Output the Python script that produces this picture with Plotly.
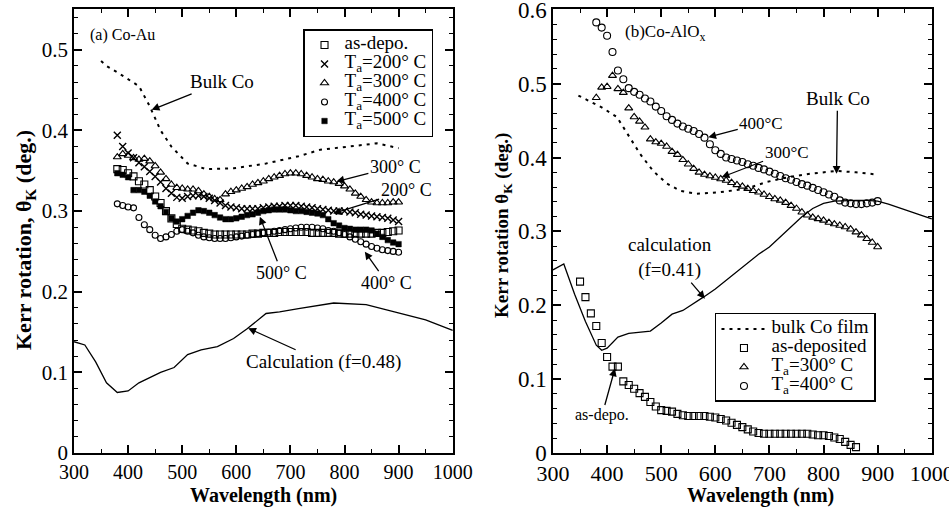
import plotly.graph_objects as go

FONT = "Liberation Serif"

# ---------------- Panel (a) Co-Au ----------------
wl_a = [380, 390, 400, 410, 420, 430, 440, 450, 460, 470, 480, 490, 500, 510, 520, 530, 540, 550,
        560, 570, 580, 590, 600, 610, 620, 630, 640, 650, 660, 670, 680, 690, 700, 710, 720, 730,
        740, 750, 760, 770, 780, 790, 800, 810, 820, 830, 840, 850, 860, 870, 880, 890, 900]
asdepo_a = [0.352, 0.351, 0.347, 0.343, 0.337, 0.333, 0.326, 0.318, 0.310, 0.300, 0.291, 0.284, 0.278,
            0.277, 0.276, 0.275, 0.273, 0.272, 0.271, 0.271, 0.271, 0.271, 0.271, 0.271, 0.271, 0.272,
            0.272, 0.273, 0.273, 0.273, 0.274, 0.274, 0.274, 0.274, 0.274, 0.274, 0.273, 0.273, 0.273,
            0.273, 0.273, 0.272, 0.272, 0.272, 0.272, 0.272, 0.272, 0.272, 0.273, 0.273, 0.274, 0.275, 0.276]
t200_a = [0.394, 0.380, 0.372, 0.366, 0.360, 0.355, 0.349, 0.343, 0.336, 0.328, 0.322, 0.317, 0.316,
          0.318, 0.319, 0.319, 0.318, 0.316, 0.313, 0.310, 0.307, 0.305, 0.304, 0.303, 0.303, 0.303,
          0.303, 0.304, 0.305, 0.306, 0.306, 0.307, 0.307, 0.307, 0.306, 0.305, 0.304, 0.303, 0.302,
          0.301, 0.300, 0.300, 0.300, 0.299, 0.298, 0.296, 0.295, 0.294, 0.293, 0.292, 0.291, 0.289, 0.287]
t300_a = [0.367, 0.371, 0.369, 0.366, 0.364, 0.365, 0.362, 0.356, 0.348, 0.340, 0.333, 0.329, 0.328,
          0.327, 0.327, 0.325, 0.321, 0.318, 0.315, 0.314, 0.321, 0.324, 0.326, 0.328, 0.330, 0.333,
          0.335, 0.337, 0.340, 0.342, 0.344, 0.346, 0.347, 0.347, 0.346, 0.344, 0.342, 0.340, 0.339,
          0.337, 0.336, 0.334, 0.331, 0.327, 0.322, 0.318, 0.314, 0.311, 0.310, 0.310, 0.310, 0.311, 0.311]
t400_a = [0.309, 0.307, 0.305, 0.304, 0.292, 0.283, 0.277, 0.270, 0.266, 0.268, 0.271, 0.275, 0.277,
          0.275, 0.273, 0.270, 0.268, 0.267, 0.266, 0.266, 0.266, 0.267, 0.268, 0.269, 0.270, 0.271,
          0.272, 0.273, 0.274, 0.275, 0.276, 0.277, 0.278, 0.279, 0.280, 0.280, 0.280, 0.279, 0.278,
          0.276, 0.275, 0.273, 0.271, 0.268, 0.265, 0.262, 0.259, 0.256, 0.254, 0.252, 0.251, 0.250, 0.249]
t500_a = [0.347, 0.345, 0.342, 0.326, 0.326, 0.324, 0.319, 0.312, 0.306, 0.299, 0.291, 0.287, 0.290,
          0.294, 0.298, 0.301, 0.300, 0.298, 0.295, 0.292, 0.290, 0.290, 0.291, 0.293, 0.295, 0.296,
          0.298, 0.300, 0.301, 0.302, 0.302, 0.302, 0.301, 0.300, 0.300, 0.299, 0.298, 0.297, 0.295,
          0.290, 0.285, 0.282, 0.279, 0.278, 0.277, 0.277, 0.277, 0.276, 0.272, 0.268, 0.264, 0.261, 0.259]
bulk_wl_a = [350, 360, 380, 400, 420, 440, 460, 480, 510, 545, 595, 655, 715, 755, 810, 860, 900]
bulk_a = [0.486, 0.480, 0.472, 0.463, 0.455, 0.430, 0.400, 0.380, 0.359, 0.352, 0.353, 0.359, 0.368,
          0.376, 0.380, 0.384, 0.378]
calc_wl_a = [300, 320, 340, 360, 380, 400, 420, 460, 485, 510, 535, 565, 595, 620, 655, 680, 715, 780,
             840, 900, 950, 1000]
calc_a = [0.138, 0.134, 0.113, 0.087, 0.075, 0.077, 0.087, 0.100, 0.106, 0.122, 0.128, 0.132, 0.142,
          0.154, 0.173, 0.175, 0.179, 0.186, 0.184, 0.174, 0.165, 0.152]

# ---------------- Panel (b) Co-AlOx ----------------
wl_b = wl_a
t300_b = [0.481, 0.495, 0.496, 0.511, 0.493, 0.488, 0.467, 0.455, 0.449, 0.441, 0.425, 0.421, 0.419,
          0.415, 0.408, 0.404, 0.397, 0.391, 0.385, 0.380, 0.377, 0.375, 0.373, 0.371, 0.369, 0.366,
          0.363, 0.361, 0.358, 0.355, 0.353, 0.350, 0.347, 0.344, 0.342, 0.339, 0.335, 0.331, 0.326,
          0.322, 0.319, 0.317, 0.315, 0.312, 0.310, 0.308, 0.306, 0.303, 0.299, 0.295, 0.290, 0.285, 0.279]
t400_b = [0.583, 0.576, 0.565, 0.543, 0.518, 0.506, 0.494, 0.489, 0.485, 0.480, 0.476, 0.469, 0.463,
          0.456, 0.451, 0.446, 0.442, 0.439, 0.436, 0.432, 0.427, 0.418, 0.410, 0.405, 0.400, 0.398,
          0.396, 0.394, 0.391, 0.389, 0.386, 0.384, 0.381, 0.378, 0.375, 0.372, 0.370, 0.367, 0.364,
          0.362, 0.359, 0.356, 0.353, 0.350, 0.347, 0.342, 0.339, 0.338, 0.337, 0.337, 0.338, 0.339, 0.341]
asdep_wl_b = [350, 360, 370, 380, 390, 400, 410, 420, 430, 440, 450, 460, 470, 480, 490, 500, 510, 520,
              530, 540, 550, 560, 570, 580, 590, 600, 610, 620, 630, 640, 650, 660, 670, 680, 690, 700,
              710, 720, 730, 740, 750, 760, 770, 780, 790, 800, 810, 820, 830, 840, 850, 860]
asdep_b = [0.232, 0.211, 0.189, 0.172, 0.149, 0.130, 0.117, 0.117, 0.097, 0.092, 0.087, 0.081, 0.076,
           0.069, 0.063, 0.058, 0.057, 0.056, 0.053, 0.051, 0.050, 0.050, 0.050, 0.050, 0.049, 0.048,
           0.046, 0.044, 0.041, 0.038, 0.035, 0.032, 0.029, 0.027, 0.026, 0.026, 0.026, 0.026, 0.026,
           0.026, 0.026, 0.026, 0.026, 0.025, 0.024, 0.024, 0.023, 0.021, 0.019, 0.015, 0.011, 0.008]
bulk_wl_b = [347, 390, 418, 442, 461, 485, 510, 535, 565, 608, 658, 695, 732, 775, 824, 860, 900]
bulk_b = [0.484, 0.468, 0.455, 0.428, 0.405, 0.382, 0.365, 0.355, 0.351, 0.353, 0.358, 0.367, 0.373,
          0.378, 0.382, 0.380, 0.377]
calc_wl_b = [300, 320, 340, 360, 380, 390, 400, 410, 420, 440, 460, 480, 500, 520, 540, 560, 580, 600,
             620, 640, 660, 680, 700, 720, 740, 760, 780, 800, 820, 840, 860, 880, 900, 920, 940, 960,
             980, 1000]
calc_b = [0.248, 0.256, 0.215, 0.178, 0.146, 0.139, 0.142, 0.150, 0.157, 0.162, 0.164, 0.165, 0.176,
          0.188, 0.193, 0.202, 0.212, 0.222, 0.234, 0.245, 0.258, 0.269, 0.279, 0.293, 0.306, 0.320,
          0.331, 0.338, 0.341, 0.342, 0.342, 0.342, 0.341, 0.337, 0.332, 0.327, 0.322, 0.317]

names_a = ["as-depo.", "T<sub>a</sub>=200° C", "T<sub>a</sub>=300° C", "T<sub>a</sub>=400° C",
           "T<sub>a</sub>=500° C"]
names_b = ["bulk Co film", "as-deposited", "T<sub>a</sub>=300° C", "T<sub>a</sub>=400° C"]


def big(t):
    return '<span style="font-size:19px">' + t + '</span>'


fig = go.Figure()
BLK = "black"

# panel (a) lines
fig.add_trace(go.Scatter(x=bulk_wl_a, y=bulk_a, mode="lines", xaxis="x", yaxis="y", showlegend=False,
                         line=dict(color=BLK, width=2, dash="3px,5px"), name="Bulk Co"))
fig.add_trace(go.Scatter(x=calc_wl_a, y=calc_a, mode="lines", xaxis="x", yaxis="y", showlegend=False,
                         line=dict(color=BLK, width=1.3), name="Calculation"))
# panel (a) markers
specs_a = [
    (asdepo_a, dict(symbol="square-open", size=7, color=BLK, line=dict(width=1.1, color=BLK))),
    (t200_a, dict(symbol="x-thin", size=7, color=BLK, line=dict(width=1.4, color=BLK))),
    (t300_a, dict(symbol="triangle-up-open", size=7, color=BLK, line=dict(width=1.1, color=BLK))),
    (t400_a, dict(symbol="circle-open", size=6, color=BLK, line=dict(width=1.1, color=BLK))),
    (t500_a, dict(symbol="square", size=5.5, color=BLK, line=dict(width=0.5, color=BLK))),
]
for (vals, mk), nm in zip(specs_a, names_a):
    fig.add_trace(go.Scatter(x=wl_a, y=vals, mode="markers", xaxis="x", yaxis="y", marker=mk,
                             name=big(nm), legend="legend"))

# panel (b)
fig.add_trace(go.Scatter(x=calc_wl_b, y=calc_b, mode="lines", xaxis="x2", yaxis="y2", showlegend=False,
                         line=dict(color=BLK, width=1.3), name="calculation"))
fig.add_trace(go.Scatter(x=bulk_wl_b, y=bulk_b, mode="lines", xaxis="x2", yaxis="y2",
                         line=dict(color=BLK, width=2, dash="3px,5px"), name=big(names_b[0]),
                         legend="legend2"))
fig.add_trace(go.Scatter(x=asdep_wl_b, y=asdep_b, mode="markers", xaxis="x2", yaxis="y2",
                         marker=dict(symbol="square-open", size=7, color=BLK, line=dict(width=1.1, color=BLK)),
                         name=big(names_b[1]), legend="legend2"))
fig.add_trace(go.Scatter(x=wl_b, y=t300_b, mode="markers", xaxis="x2", yaxis="y2",
                         marker=dict(symbol="triangle-up-open", size=7, color=BLK, line=dict(width=1.1, color=BLK)),
                         name=big(names_b[2]), legend="legend2"))
fig.add_trace(go.Scatter(x=wl_b, y=t400_b, mode="markers", xaxis="x2", yaxis="y2",
                         marker=dict(symbol="circle-open", size=7, color=BLK, line=dict(width=1.1, color=BLK)),
                         name=big(names_b[3]), legend="legend2"))


def xax(domain, anchor, size):
    return dict(domain=domain, anchor=anchor, range=[300, 1000.5], tick0=300, dtick=100,
                automargin=False, ticklabeloverflow="allow",
                showline=True, linecolor=BLK, linewidth=1.5, mirror="ticks", ticks="inside",
                ticklen=8, tickwidth=1.5, tickcolor=BLK, showgrid=False, zeroline=False,
                tickfont=dict(family=FONT, size=size, color=BLK),
                minor=dict(ticks="inside", ticklen=4, tickwidth=1.2, tickcolor=BLK, dtick=50,
                           showgrid=False))


def yax(domain, anchor, rng, size):
    return dict(domain=domain, anchor=anchor, range=rng, tick0=0, dtick=0.1,
                automargin=False, ticklabeloverflow="allow",
                showline=True, linecolor=BLK, linewidth=1.5, mirror="ticks", ticks="inside",
                ticklen=8, tickwidth=1.5, tickcolor=BLK, showgrid=False, zeroline=False,
                tickfont=dict(family=FONT, size=size, color=BLK),
                minor=dict(ticks="inside", ticklen=4, tickwidth=1.2, tickcolor=BLK, dtick=0.02,
                           showgrid=False))


YD = [0.1083, 0.9813]
legend_common = dict(xref="paper", yref="paper", xanchor="left", yanchor="top", bgcolor="white",
                     bordercolor=BLK, borderwidth=1.5, font=dict(family=FONT, size=11, color=BLK),
                     tracegroupgap=0)

fig.update_layout(
    width=949, height=508, margin=dict(l=0, r=0, t=0, b=0, autoexpand=False),
    paper_bgcolor="white", plot_bgcolor="white",
    font=dict(family=FONT, color=BLK),
    xaxis=xax([0.0780, 0.4773], "y", 20),
    yaxis=yax(YD, "x", [0, 0.55], 21),
    xaxis2=xax([0.5827, 0.9821], "y2", 22),
    yaxis2=yax(YD, "x2", [0, 0.6005], 23),
    legend=dict(legend_common, x=0.3193, y=0.9429, itemwidth=30),
    legend2=dict(legend_common, x=0.7534, y=0.3839, itemwidth=45),
)

ann = []


def arrow(text, x, y, ax, ay, xr, yr, size):
    ann.append(dict(text=text, x=x, y=y, ax=ax, ay=ay, xref=xr, yref=yr, showarrow=True,
                    arrowhead=2, arrowsize=1.2, arrowwidth=1.3, arrowcolor=BLK, standoff=0,
                    font=dict(family=FONT, size=size, color=BLK)))


arrow("Bulk Co", 443.5, 0.4256, 70, -28, "x", "y", 19)
arrow("300° C", 785, 0.3366, 59, -15, "x", "y", 18)
arrow("200° C", 779, 0.297, 73, -23, "x", "y", 18)
arrow("500° C", 643.5, 0.293, 22, 56, "x", "y", 18)
arrow("400° C", 837.6, 0.2497, 22, 31, "x", "y", 18)
arrow("Calculation (f=0.48)", 622, 0.1547, 75, 34, "x", "y", 19)

arrow("400°C", 587, 0.4275, 53, -14, "x2", "y2", 17)
arrow("300°C", 611.6, 0.3734, 65, -25, "x2", "y2", 17)
arrow("Bulk Co", 824, 0.378, 1, -75, "x2", "y2", 19)
arrow("calculation<br>(f=0.41)", 580.7, 0.209, -35, -41, "x2", "y2", 19)
arrow("as-depo.", 414.5, 0.1144, -13, 47, "x2", "y2", 16)


def label(text, x, y, size, angle=0, xanchor="center"):
    ann.append(dict(text=text, x=x, y=y, xref="paper", yref="paper", showarrow=False,
                    xanchor=xanchor, yanchor="middle", textangle=angle,
                    font=dict(family=FONT, size=size, color=BLK)))


label("(a) Co-Au", 88 / 949, 1 - 35 / 508, 16, xanchor="left")
label("(b)Co-AlO<sub>x</sub>", 623 / 949, 1 - 33 / 508, 17, xanchor="left")
label("<b>Wavelength (nm)</b>", 263 / 949, 1 - 495 / 508, 20)
label("<b>Wavelength (nm)</b>", 760 / 949, 1 - 495 / 508, 20)
label("<b>Kerr rotation, θ<sub>K</sub> (deg.)</b>", 25 / 949, 1 - 240 / 508, 22, angle=-90)
label("<b>Kerr rotation θ<sub>K</sub> (deg.)</b>", 503 / 949, 1 - 225 / 508, 19, angle=-90)

fig.update_layout(annotations=ann)
fig.write_html("out.html", config={"displayModeBar": False},
               post_script="document.body.style.margin='0';document.body.style.overflow='hidden';")
